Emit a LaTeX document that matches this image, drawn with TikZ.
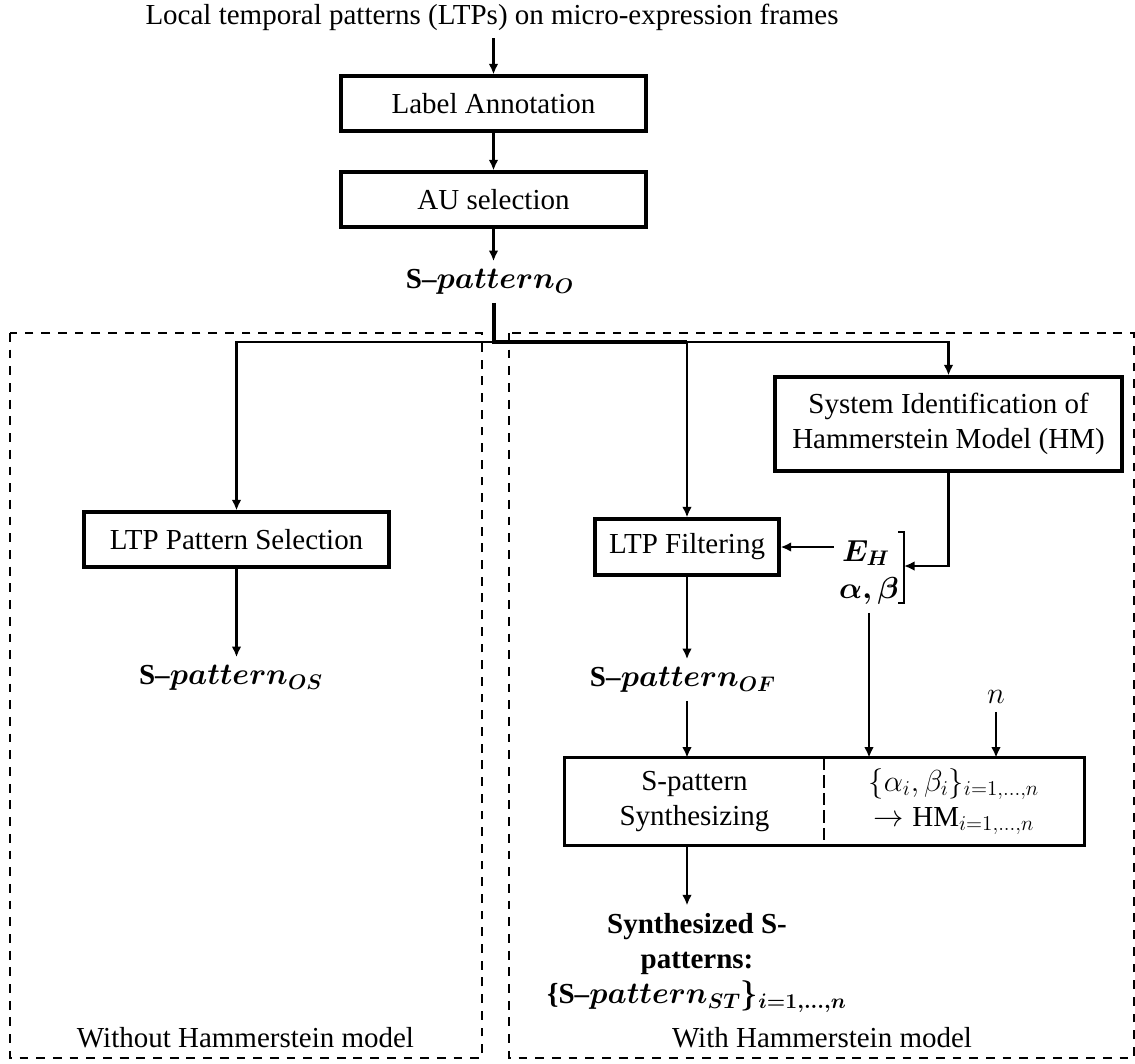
\documentclass[tikz,border=0pt]{standalone}
\usepackage{amsmath}
\usepackage{fontspec}
\setmainfont{Liberation Serif}
\usetikzlibrary{arrows.meta}
\tikzset{
  block/.style={
    draw=black,
    line width=1.8pt,
    fill=white,
    minimum width=6.1cm,
    minimum height=1.1cm,
    align=center,
    inner sep=2pt
  },
  half/.style={minimum height=1.74cm, align=center, inner sep=2pt},
  txt/.style={inner sep=4.5pt, align=center},
  caption/.style={anchor=base, inner sep=0pt},
  edge/.style={-{Latex[length=6pt,width=5.5pt]}, line width=1.3pt},
  trunk/.style={line width=2.2pt},
  bracket/.style={line width=1.3pt},
  frame/.style={line width=1.8pt},
  divider/.style={line width=1.2pt, dash pattern=on 7pt off 3pt},
  panel/.style={line width=1.2pt, dash pattern=on 5pt off 4.5pt}
}
\newcommand{\Spat}[1]{\textbf{S–}$\boldsymbol{pattern_{#1}}$}

\begin{document}
\begin{tikzpicture}[font=\fontsize{16.5}{19.9}\selectfont]
  \useasboundingbox (0,0) rectangle (22.7,-21.26);
  \draw[panel] (0.2,-6.66) rectangle (9.64,-21.16);
  \draw[panel] (10.18,-6.66) rectangle (22.68,-21.16);

  \node[txt, anchor=base] (src) at (9.84,-0.48) {Local temporal patterns (LTPs) on micro-expression frames};
  \node[block] (annot) at (9.87,-2.07) {Label Annotation};
  \node[block] (ausel) at (9.87,-3.99) {AU selection};
  \node[txt] (spo) at (9.8,-5.64) {\Spat{O}};
  \node[block] (ltpsel) at (4.73,-10.79) {LTP Pattern Selection};
  \node[txt] (spos) at (4.62,-13.56) {\Spat{OS}};
  \node[block, minimum width=3.68cm, minimum height=1.12cm] (ltpfilt) at (13.74,-10.94) {LTP Filtering};
  \node[block, minimum width=6.94cm, minimum height=1.88cm] (hmid) at (18.97,-8.48) {System Identification of\\Hammerstein Model (HM)};
  \node[txt] (eh) at (17.32,-11.06) {$\boldsymbol{E_H}$};
  \node[txt] (ab) at (17.38,-11.82) {$\boldsymbol{\alpha,\beta}$};
  \node[txt] (spof) at (13.66,-13.6) {\Spat{OF}};
  \node[txt] (nin) at (19.92,-13.94) {$n$};
  \node[half, minimum width=5.18cm] (synl) at (13.89,-16.03) {S-pattern\\Synthesizing};
  \node[half, minimum width=5.2cm] (synr) at (19.08,-16.03) {$\{\alpha_i,\beta_i\}_{i=1,\dots,n}$\\$\rightarrow\mathrm{HM}_{i=1,\dots,n}$};
  \node[txt] (synout) at (13.94,-19.26) {\textbf{Synthesized S-}\\\textbf{patterns:}\\\textbf{\{S–}$\boldsymbol{pattern_{ST}\}_{i=1,\dots,n}}$};
  \node[caption] (capl) at (4.91,-20.94) {Without Hammerstein model};
  \node[caption] (capr) at (16.44,-20.94) {With Hammerstein model};

  \draw[edge] (annot |- src.south) -- (annot.north);
  \draw[edge] (annot) -- (ausel);
  \draw[edge] (ausel) -- (ausel |- spo.north);
  \coordinate (fork) at (9.88,-6.84);
  \draw[trunk] (fork |- spo.south) -- (fork) -- (fork -| ltpfilt);
  \draw[edge] (fork) -| (ltpsel.north);
  \draw[edge] (fork -| ltpfilt) -- (ltpfilt.north);
  \draw[edge] (fork -| ltpfilt) -| (hmid.north);
  \draw[edge] (ltpsel) -- (ltpsel |- spos.north);
  \draw[edge] (ltpfilt) -- (ltpfilt |- spof.north);
  \draw[edge] (eh.west |- ltpfilt) -- (ltpfilt.east);
  \coordinate (brk) at (18.08,-11.32);
  \draw[bracket] ([shift={(-0.12,0.68)}]brk) -- ++(0.12,0) -- ++(0,-1.42) -- ++(-0.12,0);
  \draw[edge] (hmid.south) |- (brk);
  \draw[edge] (ab.south) -- (ab.south |- synr.north);
  \draw[edge] (nin.south) -- (nin.south |- synr.north);
  \draw[edge] (ltpfilt |- spof.south) -- (ltpfilt |- synl.north);
  \draw[frame] (synl.north west) rectangle (synr.south east);
  \draw[divider] (synl.north east) -- (synl.south east);
  \draw[edge] (ltpfilt |- synl.south) -- (ltpfilt |- synout.north);
\end{tikzpicture}
\end{document}
